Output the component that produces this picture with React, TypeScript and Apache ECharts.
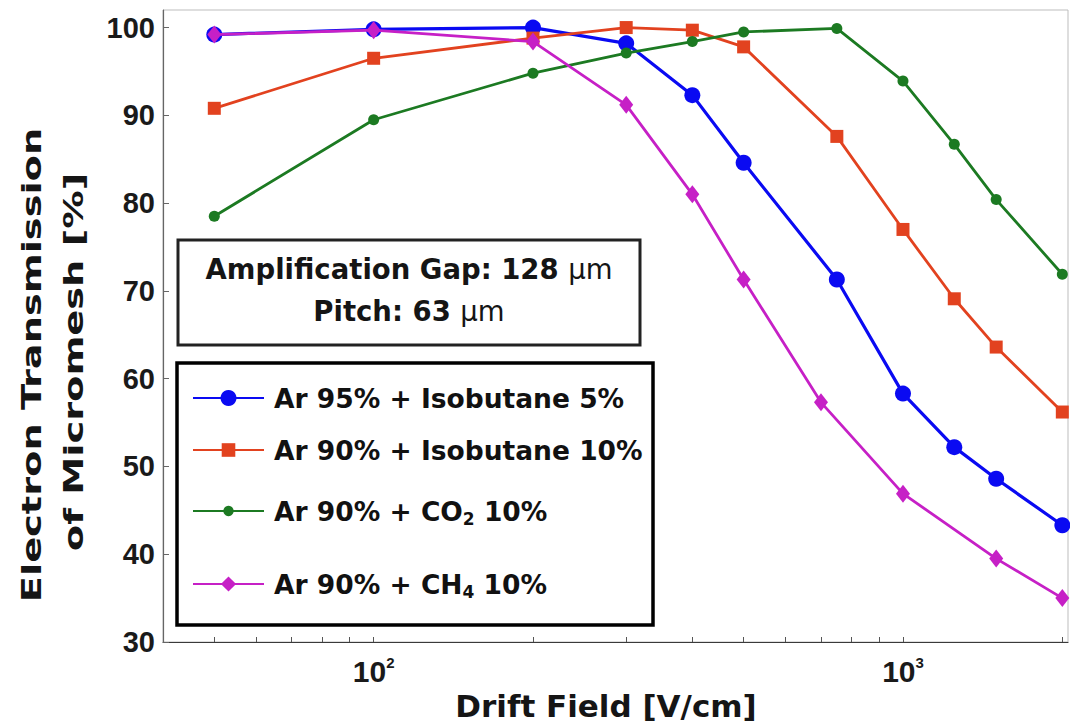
import React, { useEffect, useRef } from 'react';
import * as echarts from 'echarts';

// ---- data ----
const seriesNames = [
  'Ar 95% + Isobutane 5%',
  'Ar 90% + Isobutane 10%',
  'Ar 90% + CO2 10%',
  'Ar 90% + CH4 10%',
];
const xBlue = [50, 100, 200, 300, 400, 500, 750, 1000, 1250, 1500, 2000];
const yBlue = [99.2, 99.8, 100, 98.2, 92.3, 84.6, 71.3, 58.3, 52.2, 48.6, 43.3];
const xRed = [50, 100, 200, 300, 400, 500, 750, 1000, 1250, 1500, 2000];
const yRed = [90.8, 96.5, 98.8, 100, 99.7, 97.8, 87.6, 77.0, 69.1, 63.6, 56.2];
const xGreen = [50, 100, 200, 300, 400, 500, 750, 1000, 1250, 1500, 2000];
const yGreen = [78.5, 89.5, 94.8, 97.1, 98.4, 99.5, 99.9, 93.9, 86.7, 80.4, 71.9];
const xMagenta = [50, 100, 200, 300, 400, 500, 700, 1000, 1500, 2000];
const yMagenta = [99.2, 99.7, 98.4, 91.2, 81.0, 71.3, 57.3, 46.9, 39.5, 35.0];

const xTickValues = [50, 60, 70, 80, 90, 100, 200, 300, 400, 500, 600, 700, 800, 900, 1000, 2000];
const xLabelValues = [100, 1000];

const colors = ['#0a0af2', '#e2421f', '#1c7a22', '#c620c6'];
const symbols = ['circle', 'rect', 'circle', 'diamond'];
const symbolSizes: any[] = [16, 13, 11, [14, 18]];
const lineWidths = [3.2, 2.8, 2.8, 2.8];
const legendItemHeights = [20, 17, 13, 19];
const legendCenters = [398, 450, 508, 581];

const DJ = '"DejaVu Sans", sans-serif';
const LB = '"Liberation Sans", Arial, sans-serif';

const legendRich = {
  m: { fontFamily: DJ, fontWeight: 'bold', fontSize: 26.5, color: '#111' },
  s: { fontFamily: DJ, fontWeight: 'bold', fontSize: 17, color: '#111', padding: [16, 0, 0, 0], lineHeight: 10 },
};

function legendFormatter(name: string) {
  if (name.indexOf('CO2') >= 0) return '{m|Ar 90% + CO}{s|2}{m| 10%}';
  if (name.indexOf('CH4') >= 0) return '{m|Ar 90% + CH}{s|4}{m| 10%}';
  return '{m|' + name + '}';
}

function pairs(xs: number[], ys: number[]) {
  return xs.map((x, i) => [x, ys[i]]);
}

export default function App() {
  const ref = useRef<HTMLDivElement>(null);
  useEffect(() => {
    document.body.style.margin = '0';
    const chart = echarts.init(ref.current!, undefined, { renderer: 'svg' });
    const datasets = [
      pairs(xBlue, yBlue),
      pairs(xRed, yRed),
      pairs(xGreen, yGreen),
      pairs(xMagenta, yMagenta),
    ];
    const option: any = {
      animation: false,
      backgroundColor: '#ffffff',
      grid: {
        left: 163,
        top: 10,
        right: 2,
        bottom: 86,
        show: true,
        borderColor: '#bdbdbd',
        borderWidth: 1,
        backgroundColor: 'transparent',
      },
      xAxis: {
        type: 'log',
        logBase: 10,
        min: 40,
        max: 2050,
        axisLine: { show: true, lineStyle: { color: '#3a3a3a', width: 1.2 } },
        axisTick: {
          show: true,
          inside: true,
          length: 5,
          customValues: xTickValues,
          lineStyle: { color: '#555' },
        },
        minorTick: { show: false },
        splitLine: { show: false },
        axisLabel: {
          customValues: xLabelValues,
          margin: 14,
          formatter: (v: number) => {
            const e = Math.round(Math.log10(v));
            return '{b|10}{e|' + e + '}';
          },
          rich: {
            b: { fontFamily: LB, fontWeight: 'bold', fontSize: 30, color: '#1a1a1a' },
            e: { fontFamily: LB, fontWeight: 'bold', fontSize: 15, color: '#1a1a1a', padding: [0, 0, 18, 0], lineHeight: 10 },
          },
        },
      },
      yAxis: {
        type: 'value',
        min: 30,
        max: 102,
        interval: 10,
        axisLine: { show: true, lineStyle: { color: '#666', width: 1.2 } },
        axisTick: { show: true, inside: true, length: 6, lineStyle: { color: '#666' } },
        splitLine: { show: false },
        axisLabel: {
          showMaxLabel: false,
          margin: 8,
          fontFamily: LB,
          fontWeight: 'bold',
          fontSize: 29,
          color: '#1a1a1a',
        },
      },
      legend: seriesNames.map((name, i) => ({
        data: [name],
        left: 192,
        top: legendCenters[i] - Math.max(13.5, legendItemHeights[i] / 2),
        padding: 0,
        orient: 'vertical',
        itemWidth: 71,
        itemHeight: legendItemHeights[i],
        selectedMode: false,
        formatter: legendFormatter,
        textStyle: {
          fontFamily: DJ,
          fontWeight: 'bold',
          fontSize: 26.5,
          color: '#111',
          padding: [0, 0, 0, 5],
          rich: legendRich,
        },
      })),
      series: seriesNames.map((name, i) => ({
        name,
        type: 'line',
        data: datasets[i],
        symbol: symbols[i],
        symbolSize: symbolSizes[i],
        showSymbol: true,
        itemStyle: { color: colors[i] },
        lineStyle: { color: colors[i], width: lineWidths[i] },
        z: 2 + i,
      })),
      graphic: [
        {
          type: 'rect',
          z: 0,
          shape: { x: 178, y: 240, width: 462, height: 105 },
          style: { fill: '#fff', stroke: '#222', lineWidth: 3 },
        },
        {
          type: 'text',
          z: 1,
          x: 409,
          y: 269,
          style: {
            text: '{b|Amplification Gap: 128 }{u|\u00b5m}',
            align: 'center',
            verticalAlign: 'middle',
            rich: {
              b: { fontFamily: DJ, fontWeight: 'bold', fontSize: 27.5, fill: '#151515' },
              u: { fontFamily: DJ, fontWeight: 'normal', fontSize: 27.5, fill: '#151515' },
            },
          },
        },
        {
          type: 'text',
          z: 1,
          x: 409,
          y: 311,
          style: {
            text: '{b|Pitch: 63 }{u|\u00b5m}',
            align: 'center',
            verticalAlign: 'middle',
            rich: {
              b: { fontFamily: DJ, fontWeight: 'bold', fontSize: 27.5, fill: '#151515' },
              u: { fontFamily: DJ, fontWeight: 'normal', fontSize: 27.5, fill: '#151515' },
            },
          },
        },
        {
          type: 'rect',
          z: 0,
          shape: { x: 177, y: 363, width: 476, height: 262 },
          style: { fill: '#fff', stroke: '#000', lineWidth: 3.5 },
        },
        {
          type: 'text',
          x: 32,
          y: 365,
          rotation: Math.PI / 2,
          scaleX: 1.42,
          style: {
            text: 'Electron Transmission',
            font: 'bold 27px "DejaVu Sans"',
            fill: '#151515',
            align: 'center',
            verticalAlign: 'middle',
          },
        },
        {
          type: 'text',
          x: 74,
          y: 362,
          rotation: Math.PI / 2,
          scaleX: 1.42,
          style: {
            text: 'of Micromesh [%]',
            font: 'bold 27px "DejaVu Sans"',
            fill: '#151515',
            align: 'center',
            verticalAlign: 'middle',
          },
        },
        {
          type: 'text',
          x: 606,
          y: 706,
          style: {
            text: 'Drift Field [V/cm]',
            font: 'bold 31px "DejaVu Sans"',
            fill: '#151515',
            align: 'center',
            verticalAlign: 'middle',
          },
        },
      ],
    };
    chart.setOption(option);
    return () => chart.dispose();
  }, []);
  return (
    <div
      ref={ref}
      style={{ position: 'absolute', left: 0, top: 0, width: 1070, height: 728, background: '#fff' }}
    />
  );
}
